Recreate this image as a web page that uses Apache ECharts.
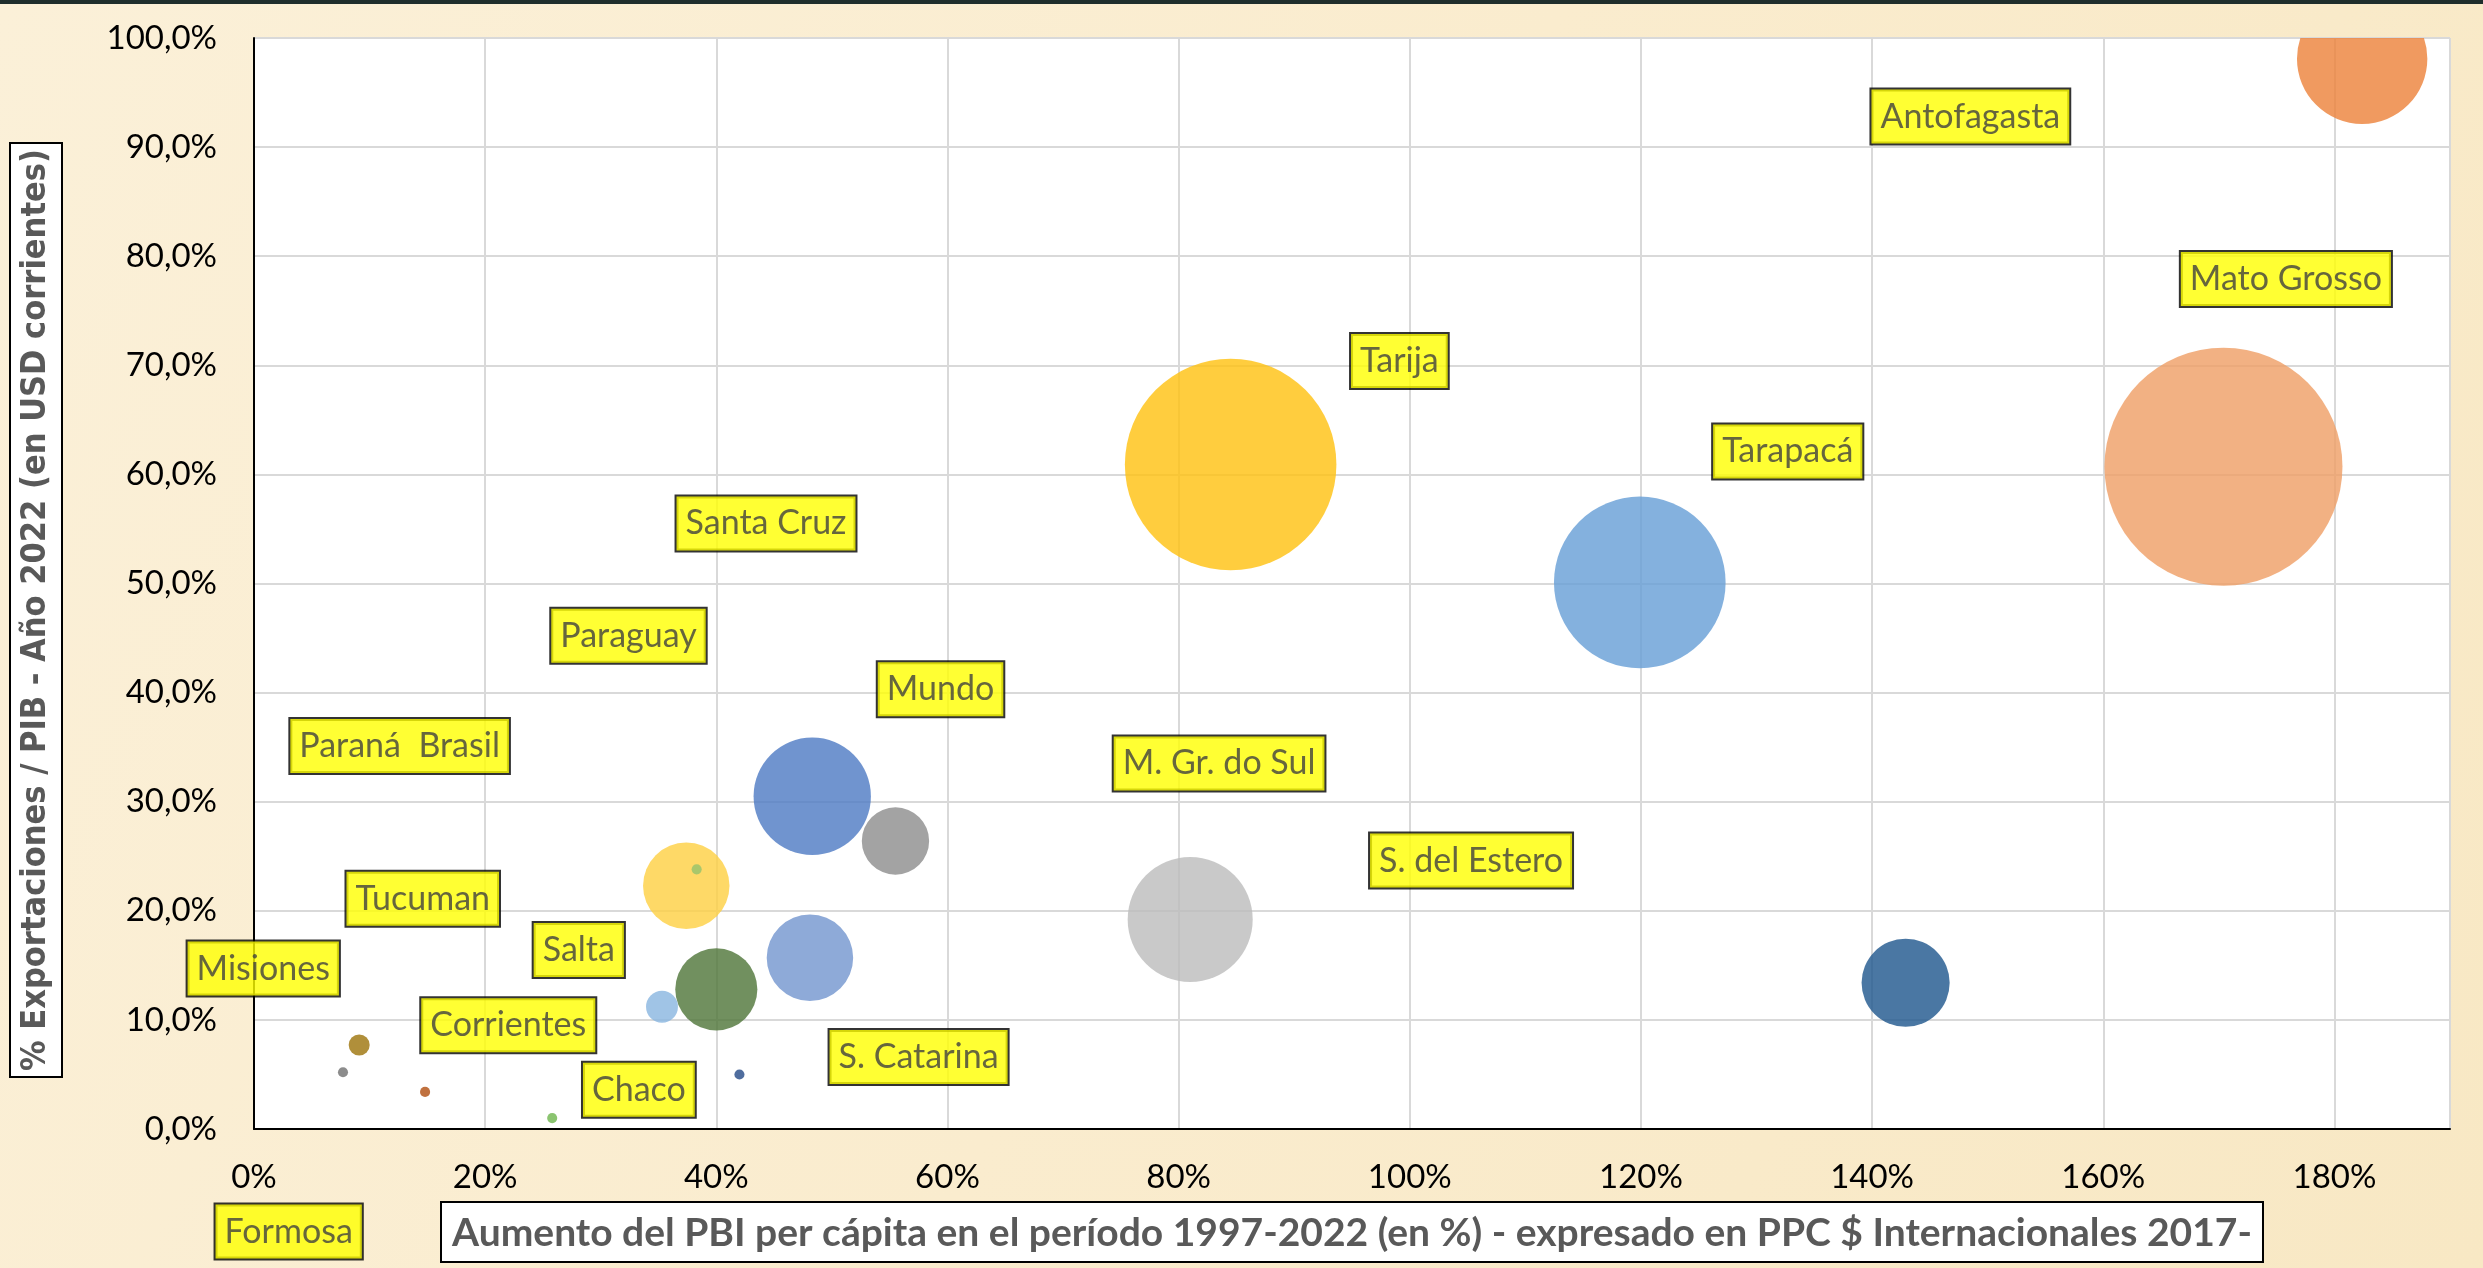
<!DOCTYPE html>
<html>
<head>
<meta charset="utf-8">
<script src="https://cdn.jsdelivr.net/npm/echarts@6/dist/echarts.min.js"></script>
<style>
  html, body { margin: 0; padding: 0; }
  #chart { width: 2483px; height: 1268px; }
</style>
</head>
<body>
<div id="chart"></div>
<script>
// burbujas (ordenadas de mayor a menor para que las chicas queden arriba)
const regiones = ['Mato Grosso', 'Tarija', 'Tarapacá', 'Antofagasta', 'M. Gr. do Sul', 'Santa Cruz',
  'S. del Estero', 'Paraguay', 'S. Catarina', 'Paraná Brasil', 'Mundo', 'Salta',
  'Misiones', 'Tucuman', 'Corrientes', 'Chaco', 'Formosa', 'Jujuy']
const aumentoPBI = [170.4, 84.5, 119.9, 182.4, 81.0, 48.3, 142.9, 37.4, 48.1, 40.0, 55.5, 35.3,
  9.1, 7.7, 14.8, 25.8, 42.0, 38.3]
const exportPIB = [60.7, 60.9, 50.1, 98.1, 19.2, 30.5, 13.4, 22.3, 15.7, 12.8, 26.4, 11.2,
  7.7, 5.2, 3.4, 1.0, 5.0, 23.8]
const tamano = [100, 79, 52, 30, 27.6, 24.3, 13.7, 13.2, 13.2, 11.9, 8.0, 1.8,
  0.78, 0.18, 0.18, 0.18, 0.18, 0.18]

const colores = ['#EF9E64', '#FFC10E', '#659ED6', '#EC8138', '#BCBCBC', '#4C79C3',
  '#1D558C', '#FED041', '#7295CE', '#4D7437', '#8C8C8C', '#88B5E0',
  '#9C7309', '#6F6F6F', '#B04E0F', '#6EB54C', '#234986', '#94C26D']

// etiquetas amarillas (ubicadas a mano en el original)
const etiquetas = ['Antofagasta', 'Mato Grosso', 'Tarija', 'Tarapacá', 'Santa Cruz', 'Paraguay',
  'Mundo', 'Paraná  Brasil', 'M. Gr. do Sul', 'S. del Estero', 'Tucuman', 'Salta',
  'Misiones', 'Corrientes', 'S. Catarina', 'Chaco', 'Formosa']
const posEtiquetaX = [148.5, 175.8, 99.1, 132.7, 44.3, 32.4, 59.4, 12.6, 83.5, 105.3, 14.6, 28.1,
  0.8, 22.0, 57.5, 33.3, 3.0]
const posEtiquetaY = [92.8, 77.9, 70.4, 62.1, 55.5, 45.2, 40.3, 35.1, 33.5, 24.6, 21.1, 16.4,
  14.7, 9.5, 6.6, 3.6, -9.4]

const ejeYTicks = [0, 10, 20, 30, 40, 50, 60, 70, 80, 90, 100]

const radioMax = 119
const tamanoMax = Math.max(...tamano)

const chart = echarts.init(document.getElementById('chart'))
chart.setOption({
  animation: false,
  backgroundColor: {
    type: 'linear', x: 0, y: 0, x2: 1, y2: 1,
    colorStops: [
      { offset: 0, color: '#FBF0D8' },
      { offset: 0.5, color: '#FAECCE' },
      { offset: 1, color: '#F8E8C4' }
    ]
  },
  grid: {
    left: 254, right: 33, top: 38, bottom: 139,
    containLabel: false,
    outerBoundsMode: 'none',
    show: true,
    backgroundColor: '#fff',
    borderWidth: 0
  },
  xAxis: {
    type: 'value',
    min: 0,
    max: 190,
    interval: 20,
    name: 'Aumento del PBI per cápita en el período 1997-2022 (en %) - expresado en PPC $ Internacionales 2017-',
    nameLocation: 'middle',
    nameGap: 74,
    nameTextStyle: {
      fontFamily: 'Lato, "Noto Sans", sans-serif',
      fontWeight: 'bold',
      fontSize: 39,
      color: '#595959',
      backgroundColor: '#fff',
      borderColor: '#000',
      borderWidth: 2,
      lineHeight: 44,
      padding: [8, 10, 6, 10],
      verticalAlign: 'top'
    },
    axisLine: { show: true, onZero: false, lineStyle: { color: '#000', width: 2 } },
    axisTick: { show: false },
    splitLine: { show: true, lineStyle: { color: '#D9D9D9', width: 2 } },
    axisLabel: {
      showMaxLabel: false,
      margin: 32,
      fontFamily: 'Lato, "Noto Sans", sans-serif',
      fontSize: 33,
      color: '#000',
      formatter: v => v + '%'
    }
  },
  yAxis: {
    type: 'value',
    min: ejeYTicks[0],
    max: ejeYTicks[ejeYTicks.length - 1],
    interval: 10,
    axisLine: { show: true, lineStyle: { color: '#000', width: 2 } },
    axisTick: { show: false },
    splitLine: { show: true, lineStyle: { color: '#D9D9D9', width: 2 } },
    axisLabel: {
      margin: 37,
      fontFamily: 'Lato, "Noto Sans", sans-serif',
      fontSize: 33,
      color: '#000',
      formatter: v => v.toFixed(1).replace('.', ',') + '%'
    }
  },
  graphic: [
    {
      type: 'rect',
      left: 0, top: 0,
      shape: { width: 2483, height: 4 },
      style: { fill: '#1F2E2C' }
    },
    {
      type: 'text',
      x: 36, y: 610,
      rotation: Math.PI / 2,
      style: {
        text: '% Exportaciones / PIB - Año 2022 (en USD corrientes)',
        fontFamily: '"DejaVu Sans Condensed", "DejaVu Sans", sans-serif',
        fontWeight: 'bold',
        fontSize: 34,
        fill: '#595959',
        align: 'center',
        verticalAlign: 'middle',
        backgroundColor: '#fff',
        borderColor: '#000',
        borderWidth: 2,
        padding: [10, 5, 6, 5]
      }
    }
  ],
  series: [
    {
      name: 'burbujas',
      type: 'custom',
      clip: true,
      silent: true,
      encode: { x: 0, y: 1 },
      data: regiones.map((n, i) => ({ name: n, value: [aumentoPBI[i], exportPIB[i], tamano[i]] })),
      renderItem: (params, api) => {
        const p = api.coord([api.value(0), api.value(1)])
        const r = radioMax * Math.sqrt(api.value(2) / tamanoMax)
        return {
          type: 'circle',
          shape: { cx: p[0], cy: p[1], r: r },
          style: { fill: colores[params.dataIndex], opacity: 0.8 }
        }
      }
    },
    {
      name: 'etiquetas',
      type: 'scatter',
      clip: false,
      silent: true,
      symbolSize: 0,
      z: 10,
      data: etiquetas.map((n, i) => ({ name: n, value: [posEtiquetaX[i], posEtiquetaY[i]] })),
      label: {
        show: true,
        position: 'inside',
        formatter: '{b}',
        fontFamily: 'Lato, "Noto Sans", sans-serif',
        fontSize: 34,
        color: '#404040',
        backgroundColor: '#FFFF00',
        borderColor: '#000',
        borderWidth: 2,
        lineHeight: 42,
        padding: [6, 9, 6, 9]
      }
    }
  ]
})
</script>
</body>
</html>
